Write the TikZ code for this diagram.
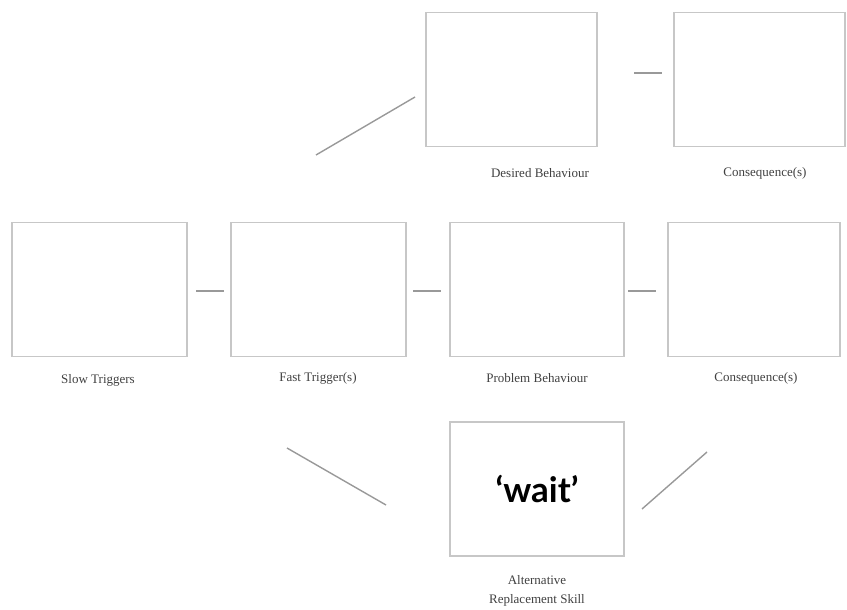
\documentclass[tikz,border=0pt]{standalone}
\usepackage{fontspec}
\setmainfont{Liberation Serif}
\newfontfamily\waitfont{Lato}
\begin{document}
\begin{tikzpicture}[x=1pt,y=-1pt,
  frame/.style={draw=black!22, line width=1.8pt, minimum width=#1, minimum height=134pt, inner sep=0pt},
  frame/.default=174pt,
  caption/.style={font=\fontsize{13}{19}\selectfont, text=black!75, align=center},
  link/.style={draw=black!40, line width=1.4pt}]
\useasboundingbox (0,0) rectangle (847,610);
% top row
\node[frame=171pt] (db) at (511.5,79.5) {};
\node[frame=171pt] (dc) at (759.5,79.5) {};
% middle row
\node[frame=175pt] (st) at (99.5,289.5) {};
\node[frame=175pt] (ft) at (318.5,289.5) {};
\node[frame] (pb) at (537,289.5) {};
\node[frame=172pt] (pc) at (754,289.5) {};
% bottom
\node[frame] (ar) at (537,489) {\waitfont\fontsize{35}{40}\selectfont\bfseries ‘wait’};
% captions
\node[caption] (dbl) at (540,173) {Desired Behaviour};
\node[caption] (dcl) at (765,173) {Consequence(s)};
\node[caption] (stl) at (98,380) {Slow Triggers};
\node[caption] (ftl) at (318,378) {Fast Trigger(s)};
\node[caption] (pbl) at (537,378) {Problem Behaviour};
\node[caption] (pcl) at (756,378) {Consequence(s)};
\node[caption] (arl) at (537,591) {Alternative\\Replacement Skill};
% short connectors between boxes
\coordinate (a1) at (634,73); \coordinate (a2) at (662,73);
\coordinate (b1) at (196,291); \coordinate (b2) at (224,291);
\coordinate (c1) at (413,291); \coordinate (c2) at (441,291);
\coordinate (d1) at (628,291); \coordinate (d2) at (656,291);
\draw[link] (a1) -- (a2);
\draw[link] (b1) -- (b2);
\draw[link] (c1) -- (c2);
\draw[link] (d1) -- (d2);
% diagonal connectors
\coordinate (e1) at (316,155); \coordinate (e2) at (415,97);
\coordinate (f1) at (287,448); \coordinate (f2) at (386,505);
\coordinate (g1) at (642,509); \coordinate (g2) at (707,452);
\draw[link] (e1) -- (e2);
\draw[link] (f1) -- (f2);
\draw[link] (g1) -- (g2);
\end{tikzpicture}
\end{document}
